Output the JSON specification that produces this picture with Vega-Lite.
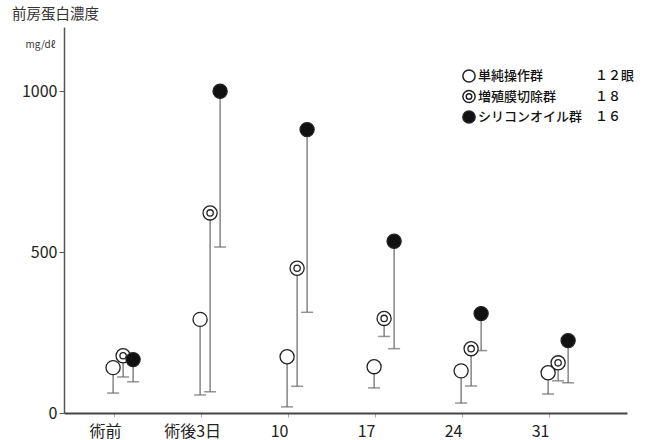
{
  "$schema": "https://vega.github.io/schema/vega-lite/v6.json",
  "width": 563,
  "height": 386,
  "autosize": {"type": "none"},
  "padding": {"left": 64, "top": 27, "right": 27, "bottom": 27},
  "background": "white",
  "config": {"view": {"stroke": null}, "font": "Noto Sans CJK JP", "axis": {"grid": false}},
  "title": {"text": "前房蛋白濃度", "anchor": "start", "frame": "group", "dx": -52, "offset": 5, "fontSize": 14.5, "fontWeight": "normal", "color": "#333"},
  "data": {"values": [
    {"time": "術前", "group": "単純操作群", "mean": 141, "lower": 62},
    {"time": "術前", "group": "増殖膜切除群", "mean": 178, "lower": 112},
    {"time": "術前", "group": "シリコンオイル群", "mean": 166, "lower": 97},
    {"time": "術後3日", "group": "単純操作群", "mean": 291, "lower": 56},
    {"time": "術後3日", "group": "増殖膜切除群", "mean": 622, "lower": 66},
    {"time": "術後3日", "group": "シリコンオイル群", "mean": 1000, "lower": 516},
    {"time": "10", "group": "単純操作群", "mean": 175, "lower": 19},
    {"time": "10", "group": "増殖膜切除群", "mean": 450, "lower": 83},
    {"time": "10", "group": "シリコンオイル群", "mean": 881, "lower": 313},
    {"time": "17", "group": "単純操作群", "mean": 144, "lower": 78},
    {"time": "17", "group": "増殖膜切除群", "mean": 294, "lower": 238},
    {"time": "17", "group": "シリコンオイル群", "mean": 534, "lower": 200},
    {"time": "24", "group": "単純操作群", "mean": 131, "lower": 31},
    {"time": "24", "group": "増殖膜切除群", "mean": 200, "lower": 84},
    {"time": "24", "group": "シリコンオイル群", "mean": 309, "lower": 194},
    {"time": "31", "group": "単純操作群", "mean": 125, "lower": 59},
    {"time": "31", "group": "増殖膜切除群", "mean": 156, "lower": 100},
    {"time": "31", "group": "シリコンオイル群", "mean": 225, "lower": 94}
  ]},
  "encoding": {
    "x": {
      "field": "time", "type": "nominal",
      "sort": ["術前", "術後3日", "10", "17", "24", "31"],
      "scale": {"type": "band", "paddingInner": 0.655, "paddingOuter": 0.563, "align": 0.45},
      "axis": {"title": null, "labelAngle": 0, "labelFontSize": 16, "labelPadding": 6, "tickSize": 4, "tickColor": "#aaa", "domainColor": "#444", "domainWidth": 2, "labelColor": "#222", "labelOffset": -9, "tickOffset": -9}
    },
    "xOffset": {
      "field": "group", "type": "nominal",
      "sort": ["単純操作群", "増殖膜切除群", "シリコンオイル群"],
      "scale": {"paddingInner": 0, "paddingOuter": 0}
    }
  },
  "layer": [
    {
      "mark": {"type": "rule", "color": "#666", "strokeWidth": 1.2},
      "encoding": {
        "y": {"field": "mean", "type": "quantitative", "scale": {"domain": [0, 1200]},
          "axis": {"values": [0, 500, 1000], "format": "d", "title": "mg/dℓ", "titleAngle": 0, "titleX": -24, "titleY": 17, "titleFontSize": 10, "titleFontWeight": "normal", "titleAlign": "center", "titleBaseline": "middle", "titleColor": "#333", "labelFontSize": 16, "tickSize": 5, "labelPadding": 2, "domainColor": "#555", "domainWidth": 1.5, "tickColor": "#555", "labelColor": "#222"}},
        "y2": {"field": "lower"}
      }
    },
    {
      "mark": {"type": "tick", "orient": "horizontal", "size": 12, "thickness": 1.5, "color": "#666"},
      "encoding": {"y": {"field": "lower", "type": "quantitative"}}
    },
    {
      "mark": {"type": "point", "filled": true, "stroke": "#222", "strokeWidth": 1.3, "size": 200, "opacity": 1},
      "encoding": {
        "y": {"field": "mean", "type": "quantitative"},
        "shape": {"field": "group", "type": "nominal",
          "scale": {"domain": ["単純操作群", "増殖膜切除群", "シリコンオイル群"], "range": ["circle", "M-1,0A1,1,0,1,0,1,0A1,1,0,1,0,-1,0ZM-0.45,0A0.45,0.45,0,1,0,0.45,0A0.45,0.45,0,1,0,-0.45,0Z", "circle"]},
          "legend": {"title": null, "orient": "none", "legendX": 398, "legendY": 42, "labelFontSize": 13, "symbolSize": 150, "rowPadding": 0.5, "labelOffset": 2, "labelLimit": 400, "labelColor": "#111", "labelFontWeight": 500,
            "labelExpr": "datum.label == '単純操作群' ? '単純操作群　　　　１２眼' : datum.label == '増殖膜切除群' ? '増殖膜切除群　　　１８' : 'シリコンオイル群　１６'",
            "encode": {"symbols": {"update": {"stroke": {"value": "#222"}, "strokeWidth": {"value": 1.3}}}}}},
        "fill": {"field": "group", "type": "nominal",
          "scale": {"domain": ["単純操作群", "増殖膜切除群", "シリコンオイル群"], "range": ["white", "white", "#111"]},
          "legend": {"title": null, "orient": "none", "legendX": 398, "legendY": 42, "labelFontSize": 13, "symbolSize": 150, "rowPadding": 0.5, "labelOffset": 2, "labelLimit": 400, "labelColor": "#111", "labelFontWeight": 500,
            "labelExpr": "datum.label == '単純操作群' ? '単純操作群　　　　１２眼' : datum.label == '増殖膜切除群' ? '増殖膜切除群　　　１８' : 'シリコンオイル群　１６'",
            "encode": {"symbols": {"update": {"stroke": {"value": "#222"}, "strokeWidth": {"value": 1.3}}}}}}
      }
    }
  ]
}
